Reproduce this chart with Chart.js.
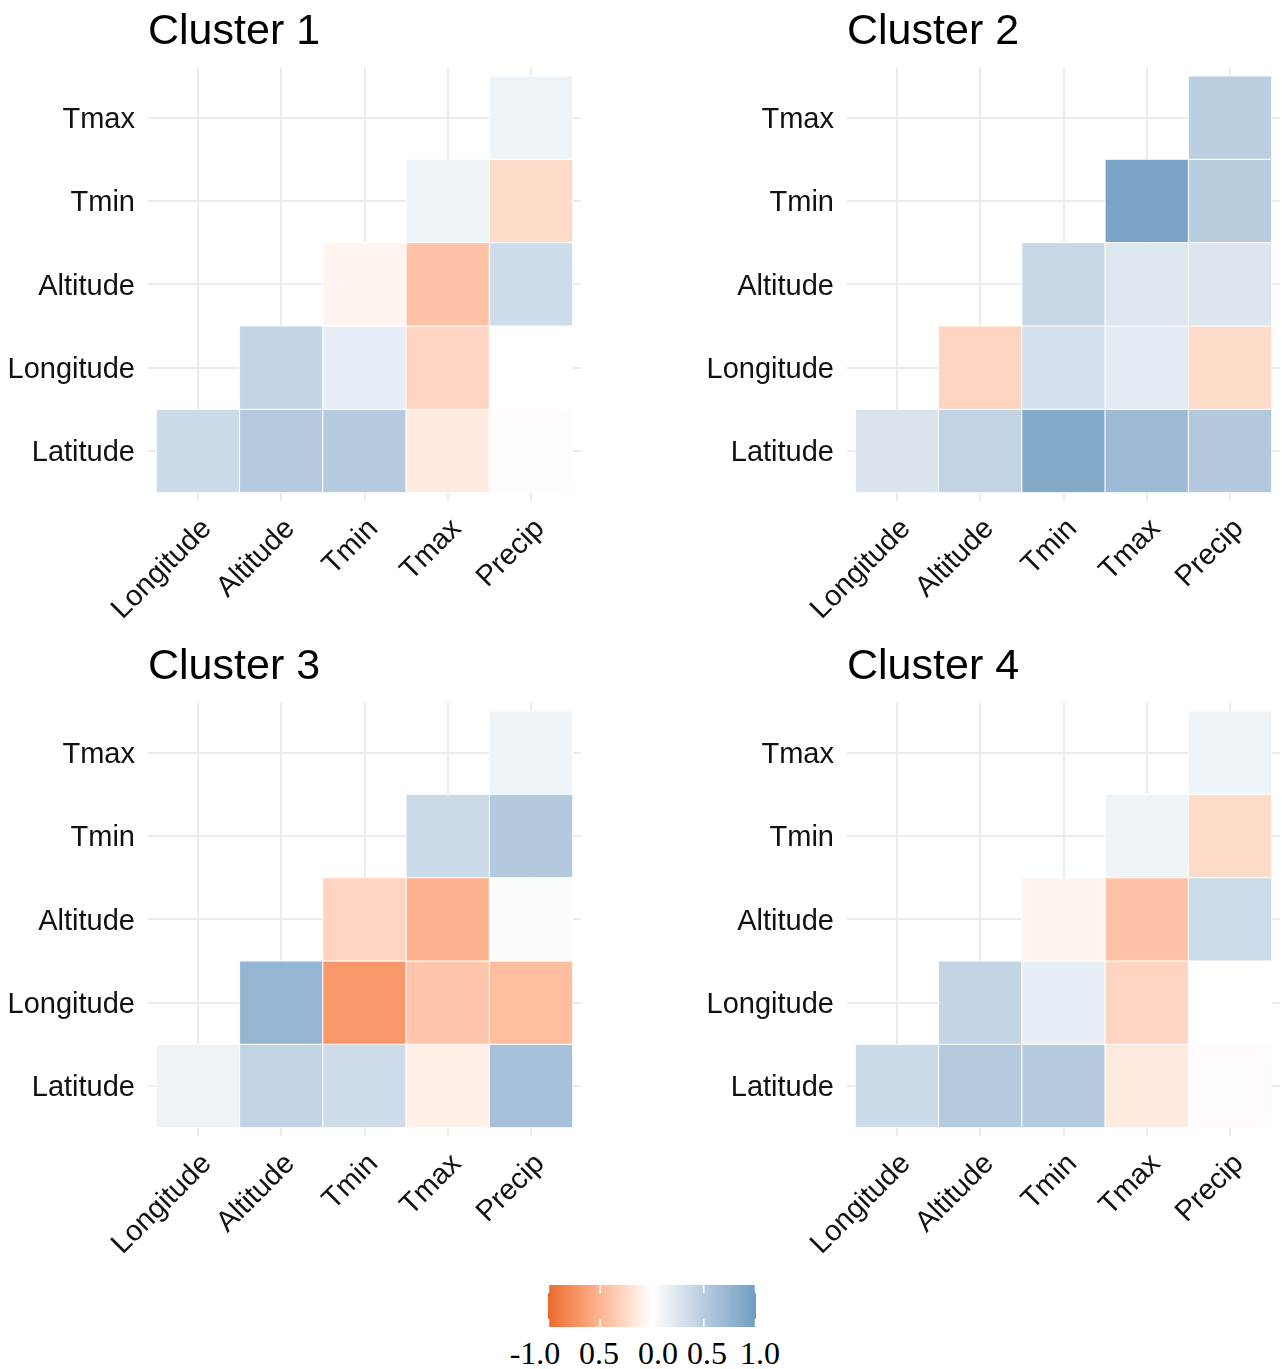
<!DOCTYPE html>
<html>
<head>
<meta charset="utf-8">
<title>Correlation by cluster</title>
<script src="https://cdn.jsdelivr.net/npm/chart.js@4.4.1/dist/chart.umd.min.js"></script>
<style>
  html, body { margin: 0; padding: 0; background: #ffffff; overflow: hidden; }
  body { width: 1282px; height: 1369px; position: relative; }
  .panel { position: absolute; }
  #legendBar { position: absolute; left: 548px; top: 1285px; }
  .lab { position: absolute; font-family: "Liberation Serif", "Times New Roman", serif; font-size: 32px; line-height: 32px; color: #000; white-space: nowrap; transform: translateX(-50%); }
</style>
</head>
<body>
<canvas id="c1" class="panel" style="left:0px;top:0px"></canvas>
<canvas id="c2" class="panel" style="left:699px;top:0px"></canvas>
<canvas id="c3" class="panel" style="left:0px;top:635px"></canvas>
<canvas id="c4" class="panel" style="left:699px;top:635px"></canvas>
<canvas id="legendBar" width="208" height="42"></canvas>
<div id="legendLabels"></div>
<script>
// Variables on each axis (rows run bottom to top)
const xVars = ['Longitude', 'Altitude', 'Tmin', 'Tmax', 'Precip'];
const yVars = ['Latitude', 'Longitude', 'Altitude', 'Tmin', 'Tmax'];

// Pairwise correlations, one row per y variable, one column per x variable
const cluster1 = [
  [0.36, 0.53, 0.52, -0.14, -0.02],
  [null, 0.42, 0.17, -0.29, 0.00],
  [null, null, -0.07, -0.41, 0.35],
  [null, null, null, 0.12, -0.24],
  [null, null, null, null, 0.12]
];
const cluster2 = [
  [0.27, 0.44, 0.86, 0.68, 0.55],
  [null, -0.29, 0.31, 0.20, -0.24],
  [null, null, 0.39, 0.24, 0.25],
  [null, null, null, 0.92, 0.50],
  [null, null, null, null, 0.48]
];
const cluster3 = [
  [0.12, 0.44, 0.34, -0.11, 0.63],
  [null, 0.74, -0.70, -0.38, -0.44],
  [null, null, -0.28, -0.52, 0.03],
  [null, null, null, 0.37, 0.54],
  [null, null, null, null, 0.11]
];
const cluster4 = [
  [0.36, 0.53, 0.52, -0.14, -0.02],
  [null, 0.42, 0.17, -0.29, 0.00],
  [null, null, -0.07, -0.41, 0.35],
  [null, null, null, 0.12, -0.24],
  [null, null, null, null, 0.12]
];
const titles = ['Cluster 1', 'Cluster 2', 'Cluster 3', 'Cluster 4'];

// Colour-bar tick values and their printed labels
const legendTicks = [-1, -0.5, 0, 0.5, 1];
const legendLabels = ['-1.0', '0.5', '0.0', '0.5', '1.0'];

// ---- diverging colour scale (interpolated in CIELAB) ----
const LOW = '#E8692C', MID = '#FFFFFF', HIGH = '#6E9DC2';
function hexRgb(h) { return [1, 3, 5].map(i => parseInt(h.substr(i, 2), 16)); }
function toLin(c) { c /= 255; return c <= 0.04045 ? c / 12.92 : Math.pow((c + 0.055) / 1.055, 2.4); }
function fromLin(c) { const v = c <= 0.0031308 ? 12.92 * c : 1.055 * Math.pow(c, 1 / 2.4) - 0.055; return Math.round(Math.min(1, Math.max(0, v)) * 255); }
const WX = 0.95047, WY = 1.0, WZ = 1.08883;
function fLab(t) { return t > 216 / 24389 ? Math.cbrt(t) : (24389 / 27 * t + 16) / 116; }
function fInv(t) { return t * t * t > 216 / 24389 ? t * t * t : (116 * t - 16) / (24389 / 27); }
function rgbLab(rgb) {
  const [r, g, b] = rgb.map(toLin);
  const X = (0.4124 * r + 0.3576 * g + 0.1805 * b) / WX;
  const Y = (0.2126 * r + 0.7152 * g + 0.0722 * b) / WY;
  const Z = (0.0193 * r + 0.1192 * g + 0.9505 * b) / WZ;
  const fx = fLab(X), fy = fLab(Y), fz = fLab(Z);
  return [116 * fy - 16, 500 * (fx - fy), 200 * (fy - fz)];
}
function labRgb(lab) {
  const fy = (lab[0] + 16) / 116, fx = fy + lab[1] / 500, fz = fy - lab[2] / 200;
  const X = fInv(fx) * WX, Y = fInv(fy) * WY, Z = fInv(fz) * WZ;
  const r = 3.2406 * X - 1.5372 * Y - 0.4986 * Z;
  const g = -0.9689 * X + 1.8758 * Y + 0.0415 * Z;
  const b = 0.0557 * X - 0.2040 * Y + 1.0570 * Z;
  return [fromLin(r), fromLin(g), fromLin(b)];
}
const labLow = rgbLab(hexRgb(LOW)), labMid = rgbLab(hexRgb(MID)), labHigh = rgbLab(hexRgb(HIGH));
function fillFor(v) {
  const t = Math.min(1, Math.abs(v));
  const end = v < 0 ? labLow : labHigh;
  const lab = labMid.map((m, k) => m + (end[k] - m) * t);
  const [r, g, b] = labRgb(lab);
  return `rgb(${r},${g},${b})`;
}

// ---- one heat-map panel per cluster ----
const axisFont = { family: '"Liberation Sans", Arial, sans-serif', size: 29 };

function cellRadius(ctx) {
  const s = ctx.chart.scales.x;
  return Math.abs(s.getPixelForValue(1) - s.getPixelForValue(0)) / Math.SQRT2;
}

function drawCluster(id, title, matrix, padRight) {
  const canvas = document.getElementById(id);
  const width = padRight === 19 ? 600 : 583;
  canvas.width = width; canvas.height = 635;
  canvas.style.width = width + 'px'; canvas.style.height = '635px';

  const cells = [];
  matrix.forEach((row, j) => row.forEach((v, i) => {
    if (v !== null) cells.push({ x: i, y: j, v: v });
  }));

  return new Chart(canvas, {
    type: 'scatter',
    data: {
      datasets: [{
        data: cells,
        pointStyle: 'rect',
        backgroundColor: c => fillFor(c.raw.v),
        borderColor: 'rgba(255,255,255,0.9)',
        borderWidth: 1,
        radius: cellRadius,
        hoverRadius: cellRadius
      }]
    },
    options: {
      responsive: false,
      animation: false,
      events: [],
      layout: { padding: { left: 0, right: padRight, top: 0, bottom: 0 } },
      plugins: {
        legend: { display: false },
        tooltip: { enabled: false },
        title: {
          display: true,
          text: title,
          align: 'start',
          fullSize: false,
          color: '#000000',
          font: { family: '"Liberation Sans", Arial, sans-serif', size: 43, weight: 'normal' },
          padding: { top: 6, bottom: 10 }
        }
      },
      scales: {
        x: {
          type: 'linear',
          min: -0.6, max: 4.6,
          afterBuildTicks: s => { s.ticks = xVars.map((_, i) => ({ value: i })); },
          afterFit: s => { s.height = 134; },
          ticks: {
            autoSkip: false,
            minRotation: 45, maxRotation: 45,
            padding: 11,
            labelOffset: 9,
            color: '#111111',
            font: axisFont,
            callback: v => xVars[v]
          },
          grid: { color: '#EBEBEB', lineWidth: 2, drawTicks: false },
          border: { display: false }
        },
        y: {
          type: 'linear',
          min: -0.6, max: 4.6,
          afterBuildTicks: s => { s.ticks = yVars.map((_, j) => ({ value: j })); },
          afterFit: s => { s.width = 148; },
          ticks: {
            autoSkip: false,
            padding: 13,
            labelOffset: 2.5,
            color: '#111111',
            font: axisFont,
            callback: v => yVars[v]
          },
          grid: { color: '#EBEBEB', lineWidth: 2, drawTicks: false },
          border: { display: false }
        }
      }
    }
  });
}

drawCluster('c1', titles[0], cluster1, 19);
drawCluster('c2', titles[1], cluster2, 2);
drawCluster('c3', titles[2], cluster3, 19);
drawCluster('c4', titles[3], cluster4, 2);

// ---- colour bar ----
(function drawLegend() {
  const cv = document.getElementById('legendBar');
  const g = cv.getContext('2d');
  const w = cv.width, h = cv.height;
  for (let px = 0; px < w; px++) {
    const v = -1 + 2 * (px + 0.5) / w;
    g.fillStyle = fillFor(v);
    g.fillRect(px, 0, 1, h);
  }
  g.strokeStyle = '#ffffff';
  g.lineWidth = 1.5;
  legendTicks.forEach(t => {
    const px = (t + 1) / 2 * (w - 1) + 0.5;
    g.beginPath();
    g.moveTo(px, 0); g.lineTo(px, 8);
    g.moveTo(px, h - 8); g.lineTo(px, h);
    g.stroke();
  });
  const centers = [535, 599, 658, 707, 760];
  const holder = document.getElementById('legendLabels');
  legendLabels.forEach((txt, k) => {
    const s = document.createElement('span');
    s.className = 'lab';
    s.textContent = txt;
    s.style.left = centers[k] + 'px';
    s.style.top = '1337px';
    holder.appendChild(s);
  });
})();
</script>
</body>
</html>
